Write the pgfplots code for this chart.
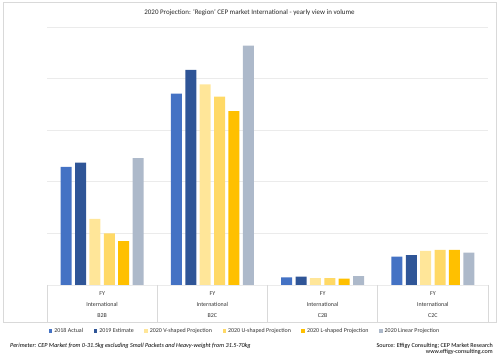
\documentclass[border=0pt]{standalone}
\usepackage{pgfplots}
\pgfplotsset{compat=1.18}
\usepackage{fontspec}
\setmainfont{Carlito}
\definecolor{cA}{HTML}{4472C4}
\definecolor{cB}{HTML}{2F5597}
\definecolor{cV}{HTML}{FFE699}
\definecolor{cU}{HTML}{FFD966}
\definecolor{cL}{HTML}{FFC000}
\definecolor{cN}{HTML}{ADB9CA}
\definecolor{frame}{HTML}{D9D9D9}
\definecolor{gridc}{HTML}{EBEBEB}
\begin{document}
\begin{tikzpicture}
\path[use as bounding box] (0,0) rectangle (500bp,360bp);
\draw[frame, line width=0.6bp] (3.5bp,37.3bp) rectangle (496.5bp,358bp);
\node[font=\fontsize{7}{8}\selectfont, text=black!85] at (249.5bp,347bp) {2020 Projection: 'Region' CEP market International - yearly view in volume};
\begin{axis}[
  at={(47bp,75bp)}, anchor=south west, scale only axis,
  width=441bp, height=258bp,
  xmin=-0.5, xmax=3.5, ymin=0, ymax=5,
  ybar=3.4bp, bar width=11bp,
  xtick=\empty, ytick={0,1,2,3,4,5}, yticklabels={},
  major tick length=0pt,
  axis line style={draw=none},
  ymajorgrids, grid style={gridc, line width=0.7bp},
  legend columns=6,
  legend style={draw=none, fill=none, at={(0.449,-0.178)}, anchor=center,
    font=\fontsize{6}{7}\selectfont, text=black!80,
    /tikz/every even column/.append style={column sep=8.5bp},
    nodes={inner xsep=2bp}},
  legend image code/.code={\fill[#1,draw=none] (0bp,-1.8bp) rectangle (3.6bp,1.8bp);},
  every axis plot/.append style={draw=none},
]
\addplot[fill=cA] coordinates {(0,2.29) (1,3.71) (2,0.15) (3,0.55)};
\addplot[fill=cB] coordinates {(0,2.37) (1,4.17) (2,0.16) (3,0.58)};
\addplot[fill=cV] coordinates {(0,1.28) (1,3.89) (2,0.135) (3,0.66)};
\addplot[fill=cU] coordinates {(0,1.00) (1,3.65) (2,0.135) (3,0.68)};
\addplot[fill=cL] coordinates {(0,0.85) (1,3.37) (2,0.125) (3,0.68)};
\addplot[fill=cN] coordinates {(0,2.46) (1,4.64) (2,0.17) (3,0.625)};
\legend{2018 Actual, 2019 Estimate, 2020 V-shaped Projection, 2020 U-shaped Projection, 2020 L-shaped Projection, 2020 Linear Projection}
\end{axis}
\foreach \x in {47,157.25,267.5,377.75,488} {\draw[frame, line width=0.6bp] (\x bp,75bp) -- (\x bp,37.3bp);}
\foreach \x/\c in {102.1/B2B,212.4/B2C,322.6/C2B,432.9/C2C} {
  \node[font=\fontsize{6}{7}\selectfont, text=black!80] at (\x bp,66.7bp) {FY};
  \node[font=\fontsize{6}{7}\selectfont, text=black!80] at (\x bp,55.3bp) {International};
  \node[font=\fontsize{6}{7}\selectfont, text=black!80] at (\x bp,44bp) {\c};
}
\node[anchor=west, font=\fontsize{6.2}{7}\selectfont\itshape, inner sep=0pt] at (10bp,14.3bp) {Perimeter: CEP Market from 0-31.5kg excluding Small Packets and Heavy-weight from 31.5-70kg};
\node[anchor=east, font=\fontsize{6.1}{7}\selectfont, inner sep=0pt] at (493bp,14.3bp) {Source: Effigy Consulting; CEP Market Research};
\node[anchor=east, font=\fontsize{6.1}{7}\selectfont, inner sep=0pt] at (493bp,7.7bp) {www.effigy-consulting.com};
\end{tikzpicture}
\end{document}
